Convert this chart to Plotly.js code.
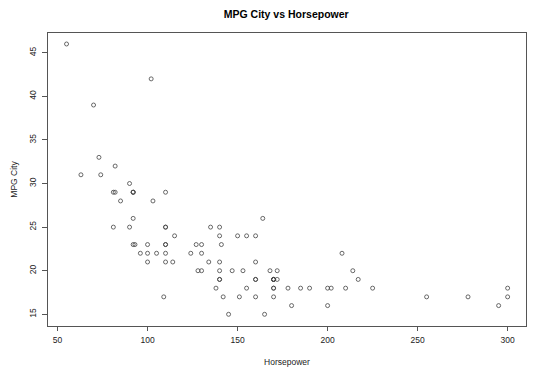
<!DOCTYPE html>
<html>
<head>
<meta charset="utf-8">
<script src="https://cdn.plot.ly/plotly-3.0.1.min.js"></script>
<style>html,body{margin:0;padding:0;background:#fff;}#chart{width:535px;height:376px;}</style>
</head>
<body>
<div id="chart"></div>
<script>
const horsepower = [140,200,172,172,208,110,170,180,170,200,295,110,110,160,110,170,165,170,300,153,141,147,92,93,100,142,100,300,92,214,63,127,96,105,115,145,140,190,55,90,160,102,140,81,124,92,128,278,185,225,160,210,82,103,164,155,255,130,217,100,140,92,202,110,150,151,160,155,110,170,170,92,74,110,160,140,170,140,85,73,90,130,70,82,135,130,138,81,109,134,178,114,168];
const mpgCity = [25,18,20,19,22,22,19,16,19,16,16,25,25,19,21,18,15,17,17,20,23,20,29,23,22,17,21,18,29,20,31,23,22,22,24,15,21,18,46,30,24,42,24,29,22,26,20,17,18,18,17,18,29,28,26,18,17,20,19,23,19,29,18,29,24,17,21,24,23,18,19,23,31,23,19,19,19,20,28,33,25,23,39,32,25,22,18,25,17,21,18,21,20];
const xTicks = [50,100,150,200,250,300];
const yTicks = [15,20,25,30,35,40,45];
const chartTitle = "MPG City vs Horsepower";
const xLabel = "Horsepower";
const yLabel = "MPG City";

const font = "Liberation Sans, Arial, sans-serif";
Plotly.newPlot('chart', [{
  x: horsepower, y: mpgCity, type: 'scatter', mode: 'markers',
  marker: {symbol: 'circle-open', size: 4, color: '#444', line: {width: 0.8, color: '#444'}},
  hoverinfo: 'x+y'
}], {
  width: 535, height: 376,
  margin: {l: 48, r: 9, t: 33, b: 50},
  paper_bgcolor: '#fff', plot_bgcolor: '#fff',
  showlegend: false,
  title: {text: '<b>' + chartTitle + '</b>', x: 0.535, xanchor: 'center', y: 0.963, yanchor: 'middle',
          font: {family: font, size: 10.5, color: '#000'}},
  xaxis: {
    range: [44.7, 310.2], tickvals: xTicks, ticktext: xTicks.map(String),
    showgrid: false, zeroline: false, showline: true, mirror: true, linecolor: '#555', linewidth: 1,
    ticks: 'outside', ticklen: 4, tickcolor: '#555', tickfont: {family: font, size: 8.5, color: '#222'},
    ticklabelstandoff: 2,
    title: {text: xLabel, font: {family: font, size: 8.5, color: '#222'}, standoff: 14}
  },
  yaxis: {
    range: [13.66, 47.26], tickvals: yTicks, ticktext: yTicks.map(String), tickangle: -90,
    showgrid: false, zeroline: false, showline: true, mirror: true, linecolor: '#555', linewidth: 1,
    ticks: 'outside', ticklen: 5, tickcolor: '#555', tickfont: {family: font, size: 8.5, color: '#222'},
    ticklabelstandoff: 3,
    title: {text: yLabel, font: {family: font, size: 8.5, color: '#222'}, standoff: 8}
  }
}, {displayModeBar: false, staticPlot: true});
</script>
</body>
</html>
